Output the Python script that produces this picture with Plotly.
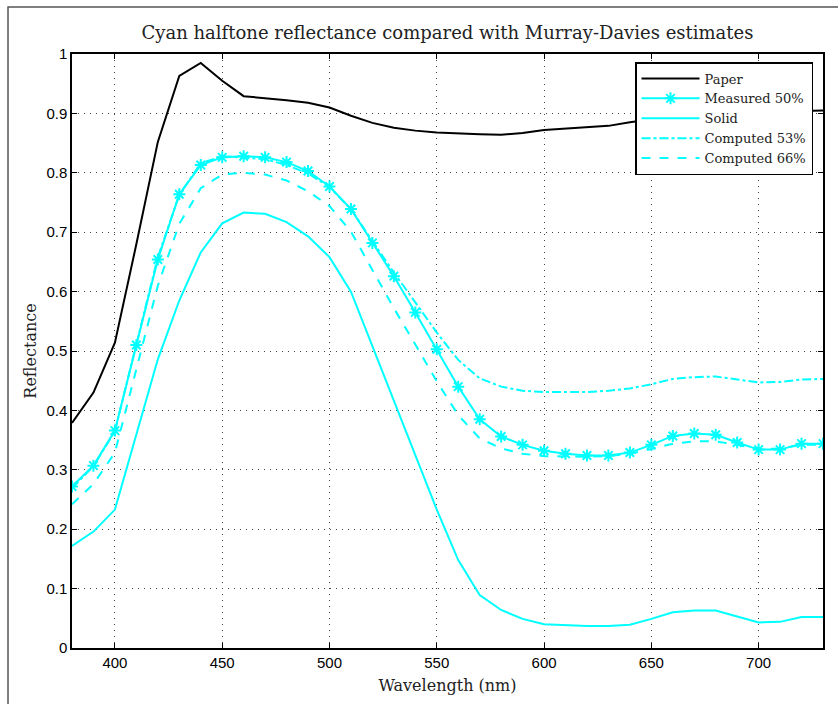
import plotly.graph_objects as go

wavelength = list(range(380, 731, 10))

paper = [0.379, 0.430, 0.514, 0.680, 0.852, 0.963, 0.985, 0.955, 0.929, 0.926,
         0.922, 0.918, 0.910, 0.896, 0.884, 0.876, 0.871, 0.868, 0.866, 0.865,
         0.864, 0.867, 0.872, 0.874, 0.876, 0.879, 0.885, 0.890, 0.896, 0.900,
         0.902, 0.903, 0.902, 0.903, 0.904, 0.905]

measured50 = [0.272, 0.307, 0.366, 0.510, 0.654, 0.764, 0.813, 0.826, 0.828, 0.826,
              0.818, 0.803, 0.777, 0.739, 0.682, 0.626, 0.565, 0.503, 0.440, 0.385,
              0.356, 0.342, 0.332, 0.327, 0.324, 0.324, 0.329, 0.342, 0.357, 0.361,
              0.359, 0.346, 0.334, 0.334, 0.344, 0.344]

solid = [0.172, 0.196, 0.233, 0.360, 0.486, 0.585, 0.666, 0.715, 0.733, 0.731,
         0.717, 0.693, 0.658, 0.600, 0.508, 0.416, 0.325, 0.233, 0.148, 0.089,
         0.064, 0.049, 0.040, 0.038, 0.037, 0.037, 0.039, 0.049, 0.060, 0.063,
         0.063, 0.053, 0.043, 0.044, 0.052, 0.052]

computed53 = [0.269, 0.306, 0.365, 0.510, 0.658, 0.763, 0.816, 0.828, 0.825, 0.823,
              0.813, 0.799, 0.776, 0.739, 0.685, 0.632, 0.582, 0.531, 0.485, 0.454,
              0.440, 0.433, 0.431, 0.431, 0.431, 0.433, 0.437, 0.444, 0.453, 0.456,
              0.457, 0.452, 0.447, 0.448, 0.452, 0.453]

computed66 = [0.242, 0.276, 0.329, 0.469, 0.610, 0.714, 0.774, 0.797, 0.800, 0.797,
              0.787, 0.769, 0.744, 0.701, 0.636, 0.572, 0.511, 0.449, 0.392, 0.353,
              0.336, 0.327, 0.323, 0.322, 0.322, 0.323, 0.327, 0.335, 0.344, 0.348,
              0.348, 0.342, 0.335, 0.336, 0.342, 0.342]

x_ticks = [400, 450, 500, 550, 600, 650, 700]
y_ticks = [0, 0.1, 0.2, 0.3, 0.4, 0.5, 0.6, 0.7, 0.8, 0.9, 1]
y_ticktext = ["0", "0.1", "0.2", "0.3", "0.4", "0.5", "0.6", "0.7", "0.8", "0.9", "1"]

CYAN = "#00FFFF"
SERIF = "DejaVu Serif, Liberation Serif, serif"
SANS = "Liberation Sans, Arial, sans-serif"

fig = go.Figure()
fig.add_trace(go.Scatter(x=wavelength, y=paper, mode="lines", name="Paper",
                         line=dict(color="black", width=2)))
fig.add_trace(go.Scatter(x=wavelength, y=measured50, mode="lines+markers", name="Measured 50%",
                         line=dict(color=CYAN, width=2),
                         marker=dict(symbol="asterisk-open", size=10,
                                     line=dict(color=CYAN, width=2))))
fig.add_trace(go.Scatter(x=wavelength, y=solid, mode="lines", name="Solid",
                         line=dict(color=CYAN, width=2)))
fig.add_trace(go.Scatter(x=wavelength, y=computed53, mode="lines", name="Computed 53%",
                         line=dict(color=CYAN, width=2, dash="dashdot")))
fig.add_trace(go.Scatter(x=wavelength, y=computed66, mode="lines", name="Computed 66%",
                         line=dict(color=CYAN, width=2, dash="dash")))

axis_common = dict(
    showline=True, linecolor="black", linewidth=1.5, mirror="ticks",
    ticks="inside", ticklen=5, tickcolor="black", tickwidth=1,
    showgrid=True, gridcolor="#444444", griddash="1px,5px", gridwidth=1,
    zeroline=False,
    tickfont=dict(family=SANS, size=15, color="black"),
)

fig.update_xaxes(range=[380, 730], tickvals=x_ticks,
                 title=dict(text="Wavelength (nm)", font=dict(family=SERIF, size=16, color="#222"),
                            standoff=10),
                 **axis_common)
fig.update_yaxes(range=[0, 1], tickvals=y_ticks, ticktext=y_ticktext,
                 title=dict(text="Reflectance", font=dict(family=SERIF, size=16, color="#222"),
                            standoff=6),
                 **axis_common)

fig.update_layout(
    width=838, height=704,
    margin=dict(l=72, r=15, t=54, b=56),
    paper_bgcolor="white", plot_bgcolor="white",
    title=dict(text="Cyan halftone reflectance compared with Murray-Davies estimates",
               font=dict(family=SERIF, size=18, color="#222"),
               x=0.5, xref="paper", xanchor="center", y=0.953, yanchor="middle"),
    legend=dict(x=0.9867, xanchor="right", y=0.9865, yanchor="top",
                bgcolor="white", bordercolor="black", borderwidth=1.5,
                font=dict(family=SERIF, size=13, color="#222"),
                itemwidth=58, tracegroupgap=0),
    showlegend=True,
    shapes=[dict(type="rect", xref="paper", yref="paper",
                 x0=-0.0852, x1=1.3, y0=-0.3, y1=1.0791,
                 line=dict(color="#555555", width=1.5), fillcolor="rgba(0,0,0,0)",
                 layer="below")],
)

fig.write_html("out.html")
